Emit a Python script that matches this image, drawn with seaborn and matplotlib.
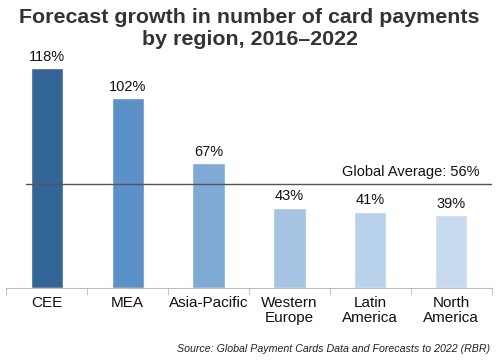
import seaborn as sns
import matplotlib.pyplot as plt
import pandas as pd

regions = ["CEE", "MEA", "Asia-Pacific", "Western\nEurope", "Latin\nAmerica", "North\nAmerica"]
growth = [118, 102, 67, 43, 41, 39]
bar_colors = ["#346598", "#5b90c8", "#80aad6", "#a5c3e3", "#b9d2ec", "#c8daef"]
global_avg = 56

sns.set_style("white")
plt.rcParams['font.family'] = ['Liberation Sans', 'DejaVu Sans']

df = pd.DataFrame({"region": regions, "growth": growth})

fig = plt.figure(figsize=(4.99, 3.6), dpi=100)
ax = fig.add_axes([0.013, 0.2, 0.972, 0.672])

sns.barplot(data=df, x="region", y="growth", hue="region", palette=bar_colors,
            width=0.4, legend=False, ax=ax, saturation=1)

# value labels
for i, v in enumerate(growth):
    ax.text(i, v + 2.5, f"{v}%", ha="center", va="bottom", fontsize=10.5, color="#111111")

# global average line
ax.plot([-0.5 + 20 / 81, 5.5], [global_avg, global_avg], color="#555555", lw=1)
ax.text(5.35, global_avg + 2.5, f"Global Average: {global_avg}%", ha="right", va="bottom",
        fontsize=10.5, color="#111111")

ax.set_xlim(-0.5, 5.5)
ax.set_ylim(0, 130)
ax.set_xlabel("")
ax.set_ylabel("")
ax.set_yticks([])
for s in ["top", "right", "left"]:
    ax.spines[s].set_visible(False)
ax.spines["bottom"].set_color("#bbbbbb")

# ticks between categories
ax.set_xticks([i + 0.5 for i in range(-1, 6)], minor=True)
ax.tick_params(axis="x", which="minor", length=5, color="#bbbbbb", bottom=True)
ax.tick_params(axis="x", which="major", length=0, pad=6, labelsize=11, labelcolor="#111111")
for lbl in ax.get_xticklabels():
    lbl.set_linespacing(1.1)

fig.text(0.5, 0.977, "Forecast growth in number of card payments\nby region, 2016\u20132022",
         ha="center", va="top", fontsize=15.4, fontweight="bold", color="#333333",
         linespacing=1.2)
fig.text(0.982, 0.018, "Source: Global Payment Cards Data and Forecasts to 2022 (RBR)",
         ha="right", va="bottom", fontsize=7.7, style="italic", color="#222222")

fig.savefig("out.png", dpi=100)
